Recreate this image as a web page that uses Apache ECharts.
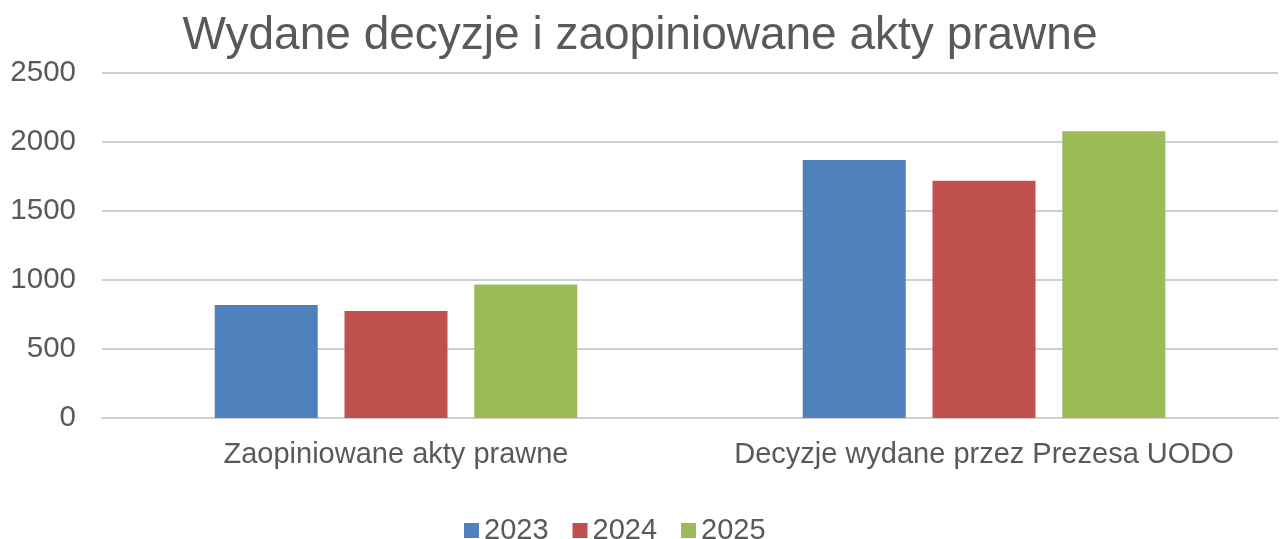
<!DOCTYPE html>
<html>
<head>
<meta charset="utf-8">
<script src="https://cdn.jsdelivr.net/npm/echarts@6/dist/echarts.min.js"></script>
<style>html,body{margin:0;padding:0;background:#fff}#c{width:1280px;height:539px}</style>
</head>
<body>
<div id="c"></div>
<script>
const titleText = 'Wydane decyzje i zaopiniowane akty prawne';
const categories = ['Zaopiniowane akty prawne', 'Decyzje wydane przez Prezesa UODO'];
const seriesNames = ['2023', '2024', '2025'];
const values2023 = [818, 1870];
const values2024 = [775, 1720];
const values2025 = [968, 2078];
const colors = ['#4F81BD', '#C0504D', '#9BBB59'];

const font = "'Liberation Sans', Arial, sans-serif";
const txt = '#595959';
const chart = echarts.init(document.getElementById('c'), null, {renderer: 'canvas'});
const data = [values2023, values2024, values2025];
chart.setOption({
  animation: false,
  backgroundColor: '#ffffff',
  title: {
    text: titleText, left: 'center', top: 8,
    textStyle: {fontFamily: font, fontSize: 46, fontWeight: 'normal', color: txt}
  },
  legend: {
    data: seriesNames, top: 511, left: 459,
    itemWidth: 15, itemHeight: 15, itemGap: 24, icon: 'rect',
    textStyle: {fontFamily: font, fontSize: 29, color: txt}
  },
  grid: {left: 102, right: 2, top: 73, bottom: 121, containLabel: false},
  xAxis: {
    type: 'category', data: categories,
    axisTick: {show: false},
    axisLine: {show: true, lineStyle: {color: '#cfcfcf', width: 2}},
    axisLabel: {fontFamily: font, fontSize: 29, color: txt, margin: 22, interval: 0}
  },
  yAxis: {
    type: 'value', min: 0, max: 2500, interval: 500,
    axisLine: {show: false}, axisTick: {show: false},
    axisLabel: {fontFamily: font, fontSize: 29.5, color: txt, margin: 26, formatter: v => String(v)},
    splitLine: {lineStyle: {color: '#cfcfcf', width: 2}}
  },
  series: seriesNames.map((n, i) => ({
    name: n, type: 'bar', data: data[i], barWidth: 103, barGap: '26%',
    itemStyle: {color: colors[i]}
  }))
});
</script>
</body>
</html>
